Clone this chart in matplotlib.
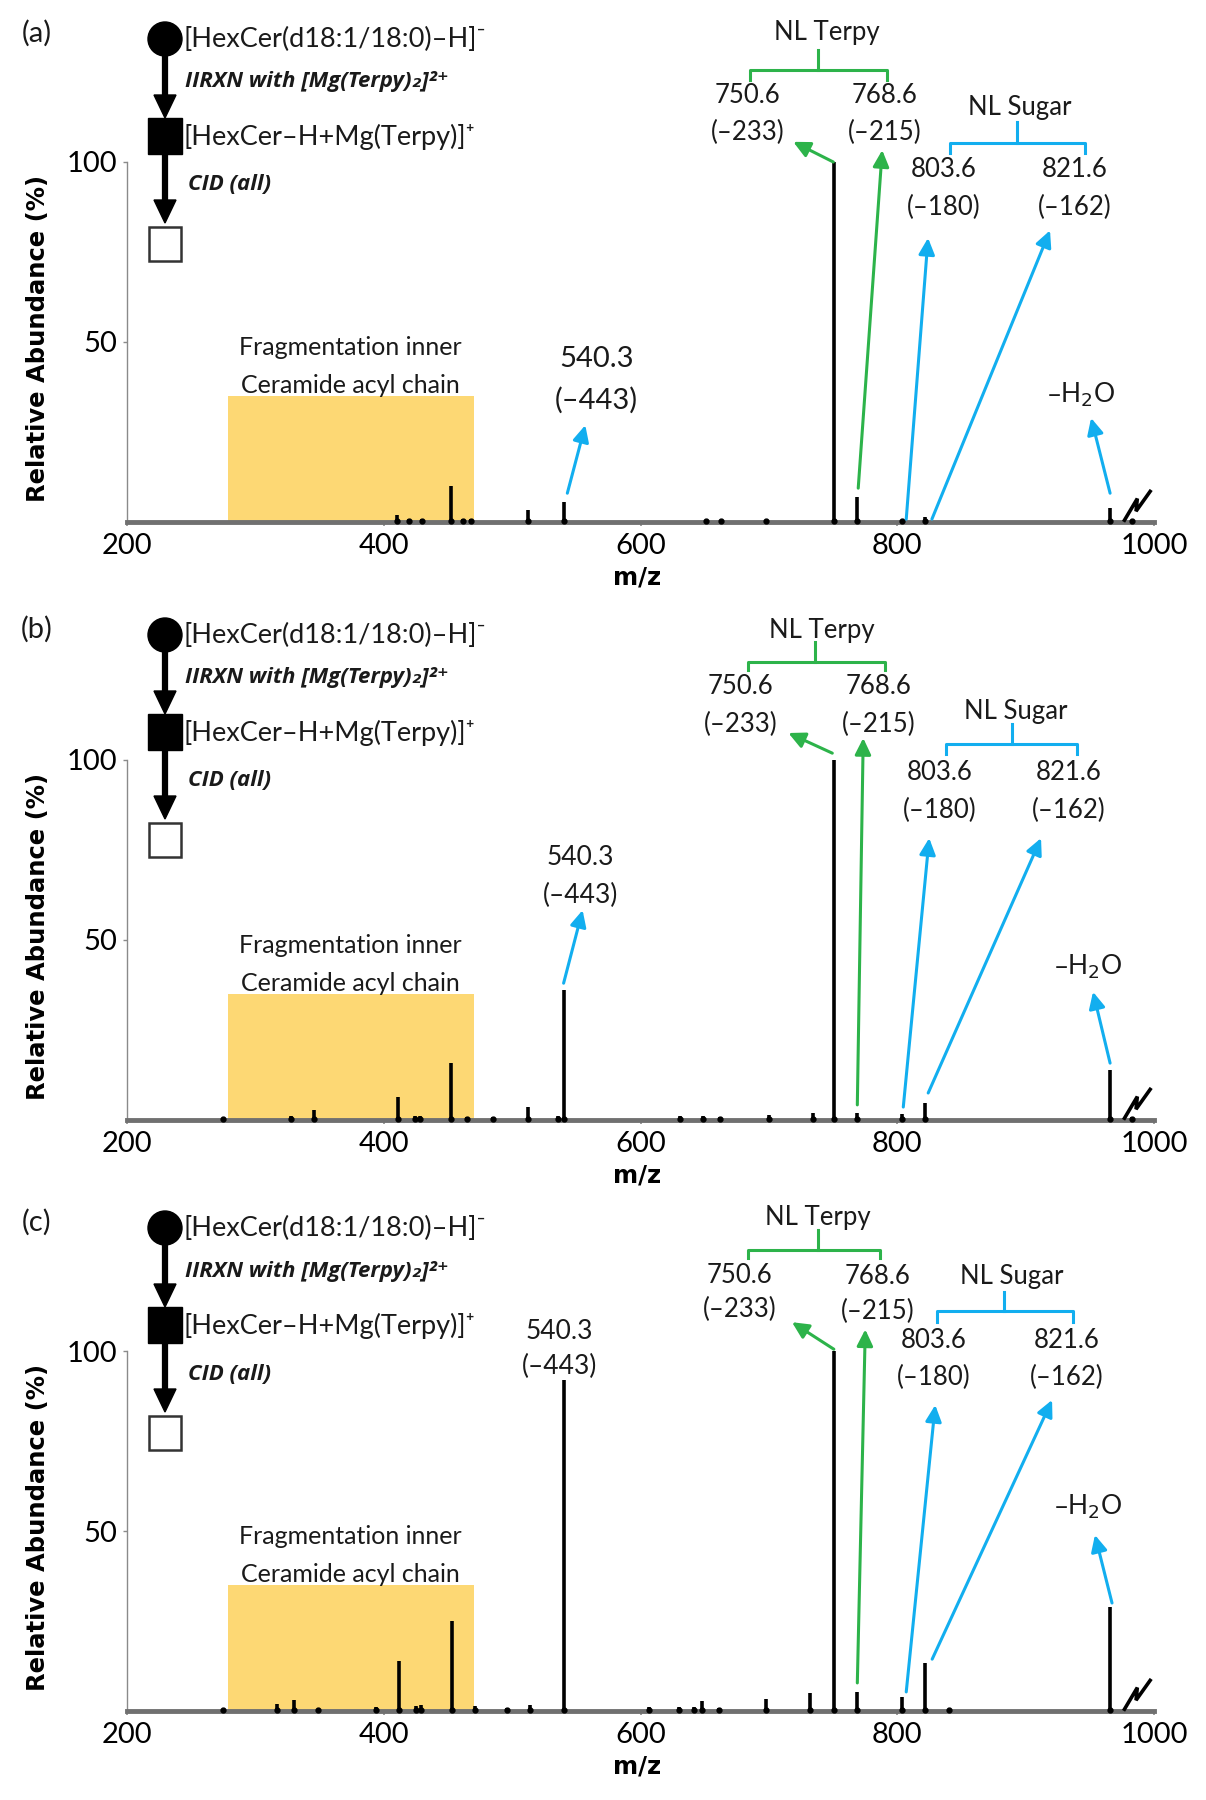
import matplotlib
matplotlib.use('Agg')
import matplotlib.pyplot as plt
import matplotlib.transforms as mtransforms
from matplotlib.patches import Circle, Rectangle, Polygon

plt.rcParams['font.family'] = ['Lato', 'DejaVu Sans']

# peak lists: m/z and relative abundance (%)
mz_a = [410, 420, 430, 452, 462, 468, 512, 540.3, 651, 663, 698, 750.6, 768.6, 803.6, 821.6, 966.0, 983]
ab_a = [2.0, 0.8, 0.7, 10.0, 0.8, 0.8, 3.3, 5.5, 0.5, 0.5, 0.5, 100, 7.0, 0.5, 1.5, 4.0, 0.5]

mz_b = [275, 328, 346, 411, 424, 428, 452, 465, 485, 512, 536, 540.3, 631, 649, 662, 700, 734,
        750.6, 768.6, 803.6, 821.6, 966.0, 983]
ab_b = [0.5, 1.0, 2.8, 6.5, 1.0, 1.0, 15.8, 0.8, 0.7, 3.6, 1.0, 36, 1.0, 1.2, 0.8, 1.5, 2.0,
        100, 2.0, 1.8, 4.7, 14, 0.8]

mz_c = [275, 317, 330, 349, 394, 412, 425, 429, 453, 471, 496, 514, 540.3, 607, 630, 642, 648, 661,
        698, 732, 750.6, 768.6, 803.6, 821.6, 840, 966.0]
ab_c = [0.5, 2.0, 3.0, 0.6, 1.0, 13.9, 1.5, 1.8, 25, 1.5, 0.8, 1.7, 92, 1.0, 1.2, 1.0, 2.7, 0.8,
        3.4, 5.0, 100, 5.2, 3.9, 13.3, 0.5, 29]

panel_names = ['(a)', '(b)', '(c)']
xticks = [200, 400, 600, 800, 1000]
yticks = [50, 100]
box_range = (279, 470, 35)   # yellow region: m/z start, m/z end, height

GREEN = '#2DB34A'
BLUE = '#12AEEF'
YELLOW = '#FDD874'
INK = '#1a1a1a'

# annotation layout for each panel (data coordinates)
layouts = [
    dict(terpy=(745.5, 136.1), tb=(685.6, 792.2, 738.5, 125.6, 131.1, 122.8),
         l750=(683.3, 118.6, 108.3), l768=(789.9, 118.6, 108.3),
         sugar=(895.7, 115.0), sb=(841.2, 946.3, 893.4, 105.3, 111.1, 102.5),
         l803=(835.8, 97.8, 87.5), l821=(938.5, 97.8, 87.5),
         g750=((750.2, 100), (719, 105.6)), g768=((769.6, 9.4), (788.3, 103.3)),
         b803=((807, 0.8), (824, 78.9)), b821=((827, 0.8), (919, 81)),
         b540=((543, 8), (557, 26.9)), bh2o=((965.8, 8), (951, 28.9)),
         l540=(565.8, 45.3, 33.9, 21), h2o=(943, 35.3)),
    dict(terpy=(741.6, 136.1), tb=(683.9, 790.7, 736.2, 127.2, 132.8, 125.0),
         l750=(677.8, 120.3, 110.0), l768=(785.2, 120.3, 110.0),
         sugar=(892.6, 113.6), sb=(838, 940, 889, 104.5, 110.0, 101.7),
         l803=(832.7, 96.4, 86.1), l821=(933.9, 96.4, 86.1),
         g750=((749.4, 101.9), (715.2, 107.5)), g768=((768.9, 4.2), (773.5, 106.1)),
         b803=((804.7, 3.6), (824.9, 78.3)), b821=((824.1, 7.5), (912, 78.3)),
         b540=((540.1, 38), (554.9, 58.3)), bh2o=((965.8, 15.8), (952.5, 35.6)),
         l540=(553.3, 72.8, 62.5, 19), h2o=(948.6, 42.5)),
    dict(terpy=(738.5, 137.0), tb=(684, 786.8, 738.5, 128.0, 133.5, 125.8),
         l750=(677, 121.1, 111.4), l768=(784.4, 120.8, 111.0),
         sugar=(889.5, 120.8), sb=(831.1, 937, 883.3, 111.0, 116.4, 108.0),
         l803=(828, 102.9, 92.6), l821=(932.3, 102.9, 92.6),
         g750=((750.6, 100.5), (718, 108)), g768=((768.9, 7.8), (775.1, 106)),
         b803=((807, 5.3), (829.6, 85)), b821=((827.2, 14.4), (920.6, 86.4)),
         b540=None, bh2o=((967.3, 30), (954, 48.9)),
         l540=(537, 105.3, 95.6, 19), h2o=(948.6, 56.7)),
]

W, H = 1206, 1800
baselines = [522, 1120, 1711]     # pixel row of zero abundance
scheme_off = [0, 596, 1189]
PX = 3.6                          # pixels per % abundance
YMIN, YMAX = -2, 144

fig = plt.figure(figsize=(W / 100, H / 100), dpi=100)


def arrow(ax, seg, color):
    tail, head = seg
    ax.annotate('', xy=head, xytext=tail, annotation_clip=False,
                arrowprops=dict(arrowstyle='-|>,head_length=0.45,head_width=0.22',
                                color=color, lw=2.2, shrinkA=0, shrinkB=0,
                                mutation_scale=22))


def bracket(ax, b, color):
    x0, x1, xm, yh, ytop, yend = b
    ax.plot([x0, x0, x1, x1], [yend, yh, yh, yend], color=color, lw=2.2, clip_on=False,
            solid_joinstyle='round')
    ax.plot([xm, xm], [yh, ytop], color=color, lw=2.2, clip_on=False)


def two_line(ax, lab, t1, t2, size=18.5):
    x, y1, y2 = lab[:3]
    ax.text(x, y1, t1, ha='center', va='center', fontsize=size, color=INK)
    ax.text(x, y2, t2, ha='center', va='center', fontsize=size, color=INK)


for i, (mz, ab) in enumerate([(mz_a, ab_a), (mz_b, ab_b), (mz_c, ab_c)]):
    B = baselines[i]
    bottom_px = B - YMIN * PX
    height_px = (YMAX - YMIN) * PX
    ax = fig.add_axes([127 / W, 1 - bottom_px / H, (1154 - 127) / W, height_px / H])
    ax.set_xlim(200, 1000)
    ax.set_ylim(YMIN, YMAX)
    ax.patch.set_visible(False)
    for s in ['top', 'right']:
        ax.spines[s].set_visible(False)
    ax.spines['bottom'].set_position(('data', 0))
    ax.spines['bottom'].set_color('#707070')
    ax.spines['bottom'].set_linewidth(3.5)
    ax.spines['left'].set_color('#8a8a8a')
    ax.spines['left'].set_linewidth(1.0)
    ax.spines['left'].set_bounds(0, 100)
    ax.set_xticks(xticks)
    ax.set_xticklabels([str(t) for t in xticks], fontsize=21)
    ax.set_yticks(yticks)
    ax.set_yticklabels([str(t) for t in yticks], fontsize=21)
    ax.tick_params(axis='x', length=3, width=1.2, color='#8a8a8a', pad=5)
    ax.tick_params(axis='y', length=3, width=1.0, color='#8a8a8a', pad=4)

    x0, x1, hgt = box_range
    ax.add_patch(Rectangle((x0, 0), x1 - x0, hgt, color=YELLOW, zorder=0, lw=0))
    ax.axhline(0, color='#202020', lw=1.2, zorder=2)
    ax.vlines(mz, 0, ab, color='black', lw=2.6, zorder=3)
    # slightly broader peak feet, as in the profile-mode spectrum
    ax.plot(mz, [0.3] * len(mz), ls='none', marker='o', ms=3.5, color='black', zorder=3)
    ax.plot([977, 987, 986, 997], [0.5, 6.5, 3, 8.5], color='black', lw=2.6,
            clip_on=False, zorder=4, solid_joinstyle='miter')

    ax.text(374, 48.6, 'Fragmentation inner', ha='center', va='center', fontsize=18, color=INK)
    ax.text(374, 38.0, 'Ceramide acyl chain', ha='center', va='center', fontsize=18, color=INK)

    L = layouts[i]
    ax.text(*L['terpy'], 'NL Terpy', ha='center', va='center', fontsize=18.5, color=INK)
    bracket(ax, L['tb'], GREEN)
    two_line(ax, L['l750'], '750.6', '(–233)')
    two_line(ax, L['l768'], '768.6', '(–215)')
    ax.text(*L['sugar'], 'NL Sugar', ha='center', va='center', fontsize=18.5, color=INK)
    bracket(ax, L['sb'], BLUE)
    two_line(ax, L['l803'], '803.6', '(–180)')
    two_line(ax, L['l821'], '821.6', '(–162)')
    two_line(ax, L['l540'], '540.3', '(–443)', size=L['l540'][3])
    ax.text(*L['h2o'], '–H$_2$O', ha='center', va='center', fontsize=19, color=INK)
    arrow(ax, L['g750'], GREEN)
    arrow(ax, L['g768'], GREEN)
    arrow(ax, L['b803'], BLUE)
    arrow(ax, L['b821'], BLUE)
    arrow(ax, L['bh2o'], BLUE)
    if L['b540'] is not None:
        arrow(ax, L['b540'], BLUE)

    blend = mtransforms.blended_transform_factory(ax.transAxes, ax.transData)
    ax.text((38 - 127) / (1154 - 127), 51, 'Relative Abundance (%)', transform=blend,
            rotation=90, ha='center', va='center', fontsize=17.5, fontweight='bold',
            family='DejaVu Sans')
    ax.text(597, -15.4, 'm/z', ha='center', va='center', fontsize=17.5, fontweight='bold',
            family='DejaVu Sans')

# overlay for the reaction scheme (pixel coordinates)
ov = fig.add_axes([0, 0, 1, 1])
ov.set_xlim(0, W)
ov.set_ylim(H, 0)
ov.axis('off')
ov.patch.set_visible(False)
for i, off in enumerate(scheme_off):
    ov.text(37, 33 + off, panel_names[i], ha='center', va='center', fontsize=21, color=INK)
    ov.add_patch(Circle((165, 39 + off), 17, color='black'))
    ov.plot([165, 165], [50 + off, 97 + off], color='black', lw=4.5, solid_capstyle='butt')
    ov.add_patch(Polygon([(154, 95 + off), (176, 95 + off), (165, 118 + off)], color='black'))
    ov.add_patch(Rectangle((148, 118 + off), 34, 36, color='black'))
    ov.plot([165, 165], [154 + off, 202 + off], color='black', lw=4.5, solid_capstyle='butt')
    ov.add_patch(Polygon([(154, 200 + off), (176, 200 + off), (165, 223 + off)], color='black'))
    ov.add_patch(Rectangle((149, 227 + off), 32, 34, facecolor='white', edgecolor='#333333', lw=1.8))
    ov.text(183, 39 + off, '[HexCer(d18:1/18:0)–H]⁻', ha='left', va='center', fontsize=19.5,
            color=INK)
    ov.text(185, 82 + off, 'IIRXN with [Mg(Terpy)₂]²⁺', ha='left', va='center', fontsize=16,
            fontweight='bold', style='italic', family=['Open Sans', 'DejaVu Sans'], color=INK)
    ov.text(183, 137 + off, '[HexCer–H+Mg(Terpy)]⁺', ha='left', va='center', fontsize=19.5,
            color=INK)
    ov.text(188, 185 + off, 'CID (all)', ha='left', va='center', fontsize=16,
            fontweight='bold', style='italic', family=['Open Sans', 'DejaVu Sans'], color=INK)

fig.savefig('out.png', dpi=100)
